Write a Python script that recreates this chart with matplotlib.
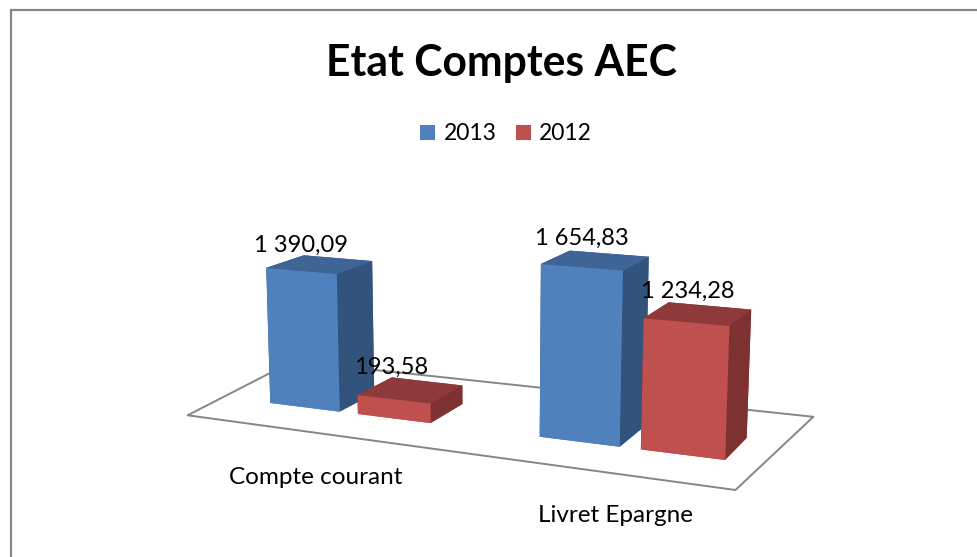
import matplotlib
matplotlib.use('Agg')
import matplotlib.pyplot as plt
from matplotlib.patches import Patch, Rectangle
from mpl_toolkits.mplot3d.art3d import Poly3DCollection

plt.rcParams['font.family'] = ['Lato', 'DejaVu Sans']

categories = ['Compte courant', 'Livret Epargne']
years = ['2013', '2012']
vals_2013 = [1390.09, 1654.83]
vals_2012 = [193.58, 1234.28]

W, H = 978, 557
GRAY = '#868686'

# face colours per series: bottom, top, front, back, left, right
faces_blue = ['#4F81BD', '#3E6596', '#4F81BD', '#3E6596', '#32537C', '#32537C']
faces_red = ['#C0504D', '#8F3A3A', '#C0504D', '#8F3A3A', '#7E3131', '#7E3131']

# camera and bar layout, fitted by least squares against the picture
elev, azim, focal = 12.60, -66.40, 0.466
box = (1, 0.392, 0.341)
margin, bar_w, bar_step, y_front, y_back = 0.260, 0.271, 0.341, 0.254, 0.577
floor_quad = [(0.08, -0.05, 0), (1.975, -0.08, 0), (2.01, 1.0, 0), (0.03, 0.95, 0)]


def fmt(v):
    return f'{v:,.2f}'.replace(',', ' ').replace('.', ',')


def px_text(x, y, s, **kw):
    fig.text(x / W, 1 - y / H, s, ha='center', va='center', color='black', **kw)


fig = plt.figure(figsize=(W / 100, H / 100), dpi=100, facecolor='white')

# chart frame runs off the picture on the right and at the bottom
fig.add_artist(Rectangle((10.5 / W, -0.1), 1.1, 1.1 - 10 / H, transform=fig.transFigure,
                         fill=False, edgecolor=GRAY, lw=1.6))

ax = fig.add_axes([152.1 / W, (H - 651.4) / H, 657.1 / W, 657.1 / H], projection='3d')
ax.computed_zorder = False
ax.set_xlim(0, 2)
ax.set_ylim(0, 1)
ax.set_zlim(0, 2000)
ax.view_init(elev=elev, azim=azim)
ax.set_proj_type('persp', focal_length=focal)
ax.set_box_aspect(box)
ax.set_axis_off()
ax.patch.set_alpha(0)

floor = Poly3DCollection([floor_quad], facecolor='white', edgecolor=GRAY, linewidth=1.4, zorder=1)
ax.add_collection3d(floor)
floor.set_clip_on(False)

z = 2
for i in range(len(categories)):
    for s, (vals, cols) in enumerate([(vals_2013, faces_blue), (vals_2012, faces_red)]):
        b = ax.bar3d(i + margin + s * bar_step, y_front, 0, bar_w, y_back - y_front, vals[i],
                     color=cols, shade=False, zorder=z)
        b.set_clip_on(False)
        z += 1

# text
px_text(501, 63, 'Etat Comptes AEC', fontsize=30.7, fontweight='bold')
px_text(301, 245, fmt(vals_2013[0]), fontsize=17)
px_text(391, 367, fmt(vals_2012[0]), fontsize=17)
px_text(582, 238, fmt(vals_2013[1]), fontsize=17)
px_text(688, 291, fmt(vals_2012[1]), fontsize=17)
px_text(316, 478, categories[0], fontsize=17.5)
px_text(615, 516, categories[1], fontsize=17.5)

handles = [Patch(facecolor=faces_blue[0], label=years[0]), Patch(facecolor=faces_red[0], label=years[1])]
fig.legend(handles=handles, loc='center', bbox_to_anchor=(506 / W, 1 - 134 / H), ncol=2, frameon=False,
           fontsize=16.5, handlelength=0.66, handleheight=0.66, handletextpad=0.35, columnspacing=0.85)

fig.savefig('out.png', dpi=100)
